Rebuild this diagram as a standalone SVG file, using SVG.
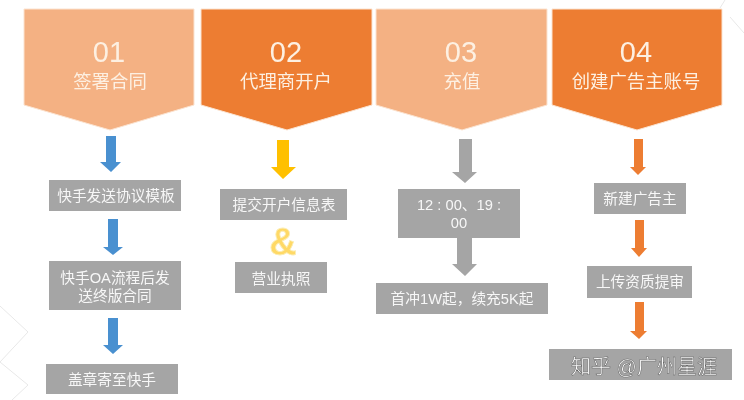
<svg xmlns="http://www.w3.org/2000/svg" width="744" height="400" viewBox="0 0 744 400">
<style>
text{font-family:"Liberation Sans","Noto Sans CJK SC",sans-serif;text-anchor:middle}
.light{fill:#f4b183;stroke:#fbe3d0;stroke-width:1}
.dark{fill:#ed7d31;stroke:#fbe3d0;stroke-width:1}
.num{font-size:29px;fill:#fdf0e2}
.title{font-size:18.4px;fill:#fdf0e2}
.box{fill:#a5a5a5}
.t{font-size:14.7px;fill:#f7f7f7}
.deco{fill:none;stroke:#e8e8e8;stroke-width:1}
.blue{fill:#4a90d0}.gold{fill:#ffc000}.gray{fill:#a5a5a5}.orange{fill:#ed7d31}
.wm{font-size:20px;fill:#fff;stroke:#5f5f5f;stroke-width:.5}
</style>
<defs><filter id="soft" x="-2%" y="-2%" width="104%" height="104%"><feGaussianBlur stdDeviation="0.5"/></filter></defs>
<rect width="744" height="400" fill="#fff"/>
<g filter="url(#soft)">
<g id="decor">
<path class="deco" d="M0 306L28 332L0 362L28 385L12 400"/>
<path class="deco" d="M725 0L720 8M730 17L744 33"/>
</g>
<g id="connectors">
<path class="blue" d="M106 136H116V162H121L111 172L100 162H106Z"/>
<path class="blue" d="M108 219H118V247H123L113 255L103 247H108Z"/>
<path class="blue" d="M108 318H118V345H123L113 354L103 345H108Z"/>
<path class="gold" d="M277 140H289V167H296L283 179L271 167H277Z"/>
<path class="gray" d="M459 139H472V172H477L465 183L452 172H459Z"/>
<path class="gray" d="M457 238H472V264H477L465 276L452 264H457Z"/>
<path class="orange" d="M634 139H643V167H646L638 175L630 167H634Z"/>
<path class="orange" d="M635 220H644V248H647L639 257L631 248H635Z"/>
<path class="orange" d="M635 302H644V331H647L639 339L630 331H635Z"/>
</g>
<g id="n01"><path class="light" d="M24 9H194V105L110 130L24 105Z"/><text class="num" x="109" y="62">01</text><text class="title" x="110" y="88">签署合同</text></g>
<g id="n02"><path class="dark" d="M201 9H372V105L287 130L201 105Z"/><text class="num" x="286" y="62">02</text><text class="title" x="286" y="88">代理商开户</text></g>
<g id="n03"><path class="light" d="M376 9H547V105L462 130L376 105Z"/><text class="num" x="461" y="62">03</text><text class="title" x="462" y="88">充值</text></g>
<g id="n04"><path class="dark" d="M552 9H722V105L637 130L552 105Z"/><text class="num" x="636" y="62">04</text><text class="title" x="636" y="88">创建广告主账号</text></g>
<g id="b11"><rect class="box" x="49" y="180" width="132" height="31"/><text class="t" x="116" y="201">快手发送协议模板</text></g>
<g id="b12"><rect class="box" x="49" y="261" width="132" height="49"/><text class="t" x="115" y="283">快手OA流程后发</text><text class="t" x="115" y="301">送终版合同</text></g>
<g id="b13"><rect class="box" x="46" y="364" width="132" height="30"/><text class="t" x="112" y="385">盖章寄至快手</text></g>
<g id="b21"><rect class="box" x="220" y="189" width="127" height="31"/><text class="t" x="284" y="210">提交开户信息表</text></g>
<g id="amp"><text x="283" y="255" style="font-size:38px;font-weight:700;fill:#ffd966;stroke:#fbeeb8;stroke-width:.8">&amp;</text></g>
<g id="b22"><rect class="box" x="235" y="262" width="92" height="31"/><text class="t" x="281" y="284">营业执照</text></g>
<g id="b31"><rect class="box" x="398" y="189" width="122" height="49"/><text class="t" x="459" y="210" xml:space="preserve">12 : 00、19 :</text><text class="t" x="459" y="228">00</text></g>
<g id="b32"><rect class="box" x="376" y="283" width="172" height="31"/><text class="t" x="462" y="304">首冲1W起，续充5K起</text></g>
<g id="b41"><rect class="box" x="594" y="183" width="92" height="31"/><text class="t" x="640" y="204">新建广告主</text></g>
<g id="b42"><rect class="box" x="587" y="266" width="105" height="32"/><text class="t" x="640" y="287">上传资质提审</text></g>
<g id="b43"><rect class="box" x="549" y="349" width="183" height="31"/><text class="wm" x="644" y="374">知乎 @广州星涯</text></g>
</g>
</svg>
